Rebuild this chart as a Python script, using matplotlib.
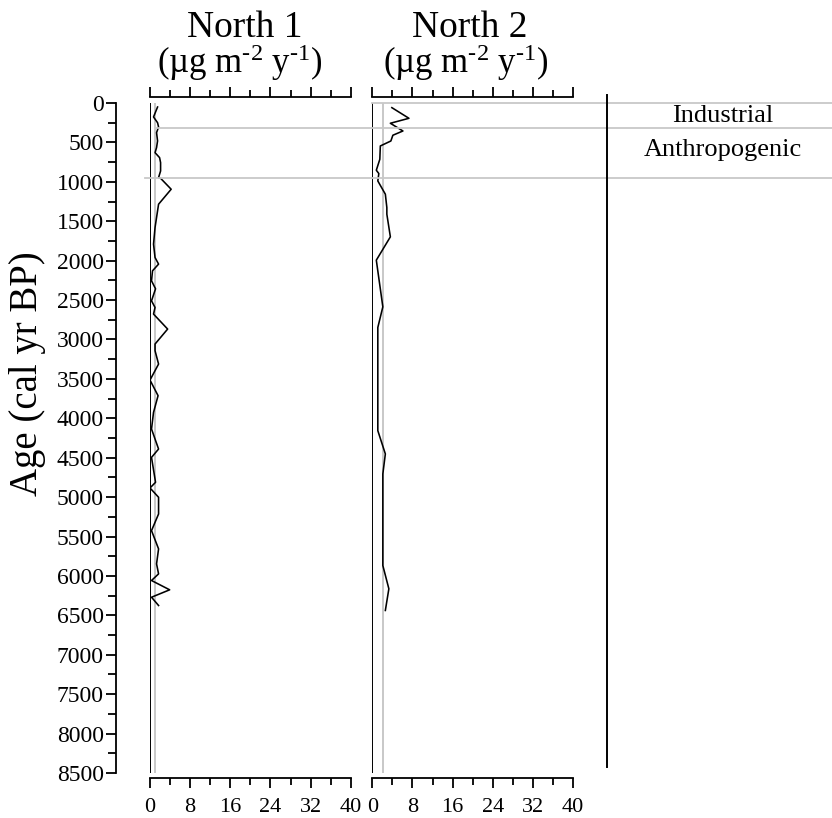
import matplotlib
matplotlib.use("Agg")
import matplotlib.pyplot as plt
from matplotlib.lines import Line2D
from matplotlib.transforms import blended_transform_factory
from matplotlib.ticker import MultipleLocator

plt.rcParams['font.family'] = ['Liberation Serif', 'DejaVu Serif']
plt.rcParams['mathtext.fontset'] = 'custom'
plt.rcParams['mathtext.rm'] = 'Liberation Serif'
plt.rcParams['mathtext.it'] = 'Liberation Serif:italic'

# ---------------- data ----------------
site_names = ["North 1", "North 2"]
units_label = r"(µg m$^{\text{-2}}$ y$^{\text{-1}}$)"

north1_age = [51, 177, 250, 304, 376, 481, 566, 630, 693, 756, 862, 946, 955,
              1094, 1284, 1453, 1580, 1791, 1960, 2044, 2129, 2256, 2357, 2510,
              2594, 2678, 2868, 3058, 3143, 3312, 3515, 3713, 3925, 4136, 4390,
              4496, 4812, 4884, 5002, 5214, 5425, 5657, 5847, 5974, 6058, 6176,
              6270, 6375]
north1_flux = [1.6, 0.8, 1.6, 1.8, 1.4, 1.6, 1.4, 1.1, 2.0, 2.2, 2.2, 1.8, 2.2,
               4.3, 1.8, 1.4, 1.1, 0.8, 1.1, 1.8, 0.6, 0.4, 1.2, 0.4,
               1.1, 0.8, 3.6, 1.1, 1.1, 1.8, 0.1, 1.7, 0.8, 0.4, 1.8,
               0.4, 1.2, 0.1, 1.8, 1.8, 0.4, 1.8, 1.4, 1.8, 0.4, 4.0,
               0.4, 1.8]

north2_age = [59, 194, 257, 355, 409, 482, 545, 714, 853, 895, 989, 1157, 1327,
              1411, 1698, 1994, 2586, 2848, 4157, 4452, 4706, 5868, 6163, 6438]
north2_flux = [3.9, 7.3, 3.6, 6.1, 4.1, 3.7, 1.6, 1.5, 0.8, 1.3, 1.1, 2.6, 2.9,
               2.9, 3.6, 0.8, 2.1, 1.1, 1.1, 2.6, 2.1, 2.1, 3.3, 2.6]

baselines = [1.0, 2.1]

zone_bounds = [0, 313, 948]
zone_names = ["Industrial", "Anthropogenic"]
zone_label_ages = [165, 600]

x_max = 40
x_ticks = [0, 8, 16, 24, 32, 40]
age_max = 8500

# ---------------- layout ----------------
W, H = 832, 818
fig = plt.figure(figsize=(W / 100, H / 100), dpi=100)

def fx(px):
    return px / W

def fy(py):
    return 1 - py / H

ax_top, ax_bot = 103, 773
panels = [(149.5, 351.0), (372.3, 573.0)]
series = [(north1_flux, north1_age), (north2_flux, north2_age)]
title_cx = [245, 470]
units_cx = [240, 466]

axes = []
for i, ((l, r), (vals, ages)) in enumerate(zip(panels, series)):
    ax = fig.add_axes([fx(l), fy(ax_bot), (r - l) / W, (ax_bot - ax_top) / H])
    axes.append(ax)
    ax.set_facecolor('none')
    ax.plot(vals, ages, color='black', lw=1.15, zorder=3)
    ax.axvline(0, color='black', lw=1.4, zorder=4)
    ax.axvline(baselines[i], color='#c4c4c4', lw=1.3, zorder=2)
    ax.set_xlim(0, x_max)
    ax.set_ylim(age_max, 0)

    ax.spines['right'].set_visible(False)
    ax.spines['top'].set_position(('outward', 4.3))
    ax.spines['bottom'].set_position(('outward', 3.6))
    for s in ['top', 'bottom', 'left']:
        ax.spines[s].set_linewidth(1.3)

    ax.set_xticks(x_ticks)
    ax.xaxis.set_minor_locator(MultipleLocator(4))
    ax.tick_params(axis='x', which='both', top=True, bottom=True,
                   labeltop=False, labelbottom=True, direction='out',
                   width=1.3, labelsize=16, pad=7)
    ax.tick_params(axis='x', which='major', length=7.5)
    ax.tick_params(axis='x', which='minor', length=5)

    if i == 0:
        ax.spines['left'].set_position(('outward', 24))
        ax.set_yticks(range(0, age_max + 1, 500))
        ax.yaxis.set_minor_locator(MultipleLocator(250))
        ax.tick_params(axis='y', which='both', direction='out', width=1.3,
                       labelsize=17, pad=1.5)
        ax.tick_params(axis='y', which='major', length=7.5)
        ax.tick_params(axis='y', which='minor', length=5.5)
    else:
        ax.spines['left'].set_visible(False)
        ax.set_yticks([])

    fig.text(fx(title_cx[i]), fy(37), site_names[i], ha='center',
             va='baseline', fontsize=27)
    fig.text(fx(units_cx[i]), fy(73), units_label, ha='center',
             va='baseline', fontsize=25)

# zone boundary lines
tr = blended_transform_factory(fig.transFigure, axes[0].transData)
zone_line_start = [372, 155, 145]
for b, xs in zip(zone_bounds, zone_line_start):
    fig.add_artist(Line2D([fx(xs), 1.0], [b, b], transform=tr,
                          color='#c8c8c8', lw=1.3, zorder=1))

for name, a in zip(zone_names, zone_label_ages):
    fig.text(fx(723), a, name, transform=tr, ha='center', va='center',
             fontsize=19)

# zone column line
fig.add_artist(Line2D([fx(607), fx(607)], [fy(95), fy(767)], color='black',
                      lw=1.4))

fig.text(fx(27), fy(374), "Age (cal yr BP)", rotation=90, ha='center',
         va='center', fontsize=28)

fig.savefig("out.png", dpi=100)
